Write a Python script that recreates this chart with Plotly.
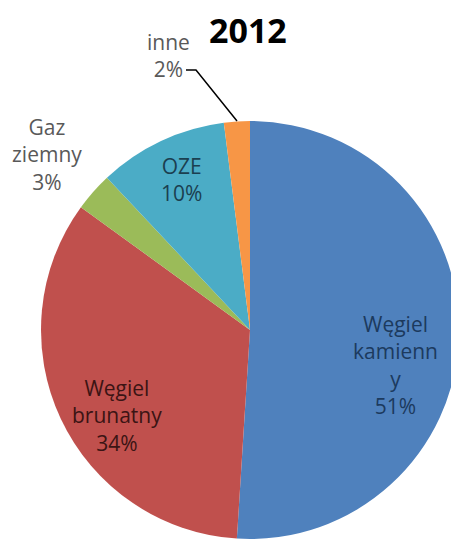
import plotly.graph_objects as go

# Data
labels = ["Węgiel kamienny", "Węgiel brunatny", "Gaz ziemny", "OZE", "inne"]
values = [51, 34, 3, 10, 2]
label_lines = ["Węgiel<br>kamienn<br>y", "Węgiel<br>brunatny", "Gaz<br>ziemny", "OZE", "inne"]
title_text = "2012"

# Styles
colors = ["#4f81bd", "#c0504d", "#9bbb59", "#4bacc6", "#f79646"]
text_colors = ["#1c3a5e", "#3b1414", "#595959", "#1b3f50", "#595959"]
# label centre positions in page pixels (x, y from top)
label_pos = [(395, 365), (117, 415), (47, 154), (181, 180), (168, 55)]

OFF = 8  # default page body margin
W, H = 459 - OFF, 540 - OFF
FONT = "Open Sans"


def px(x):
    return (x - OFF) / W


def py(y):
    return 1 - (y - OFF) / H


fig = go.Figure(
    go.Pie(
        labels=labels,
        values=values,
        sort=False,
        direction="clockwise",
        rotation=0,
        marker=dict(colors=colors, line=dict(width=0)),
        textinfo="none",
        hoverinfo="label+percent",
        showlegend=False,
        domain=dict(x=[px(41), px(459)], y=[py(539), py(121)]),
    )
)

annotations = []
total = sum(values)
for lines, v, c, (x, y) in zip(label_lines, values, text_colors, label_pos):
    annotations.append(
        dict(
            text=f"{lines}<br>{round(100 * v / total)}%",
            x=px(x), y=py(y), xref="paper", yref="paper",
            xanchor="center", yanchor="middle", showarrow=False,
            font=dict(family=FONT, size=21, color=c),
        )
    )
annotations.append(
    dict(
        text=f"<b>{title_text}</b>",
        x=px(248), y=py(30), xref="paper", yref="paper",
        xanchor="center", yanchor="middle", showarrow=False,
        font=dict(family=FONT, size=34, color="#000000"),
    )
)

# leader line for "inne"
path = f"M {px(186)} {py(70)} L {px(196)} {py(70)} L {px(237)} {py(121)}"
fig.update_layout(
    width=W, height=H,
    margin=dict(l=0, r=0, t=0, b=0),
    paper_bgcolor="white",
    plot_bgcolor="white",
    annotations=annotations,
    shapes=[dict(type="path", path=path, xref="paper", yref="paper",
                 line=dict(color="#000000", width=1.5))],
)

fig.write_html("out.html")
